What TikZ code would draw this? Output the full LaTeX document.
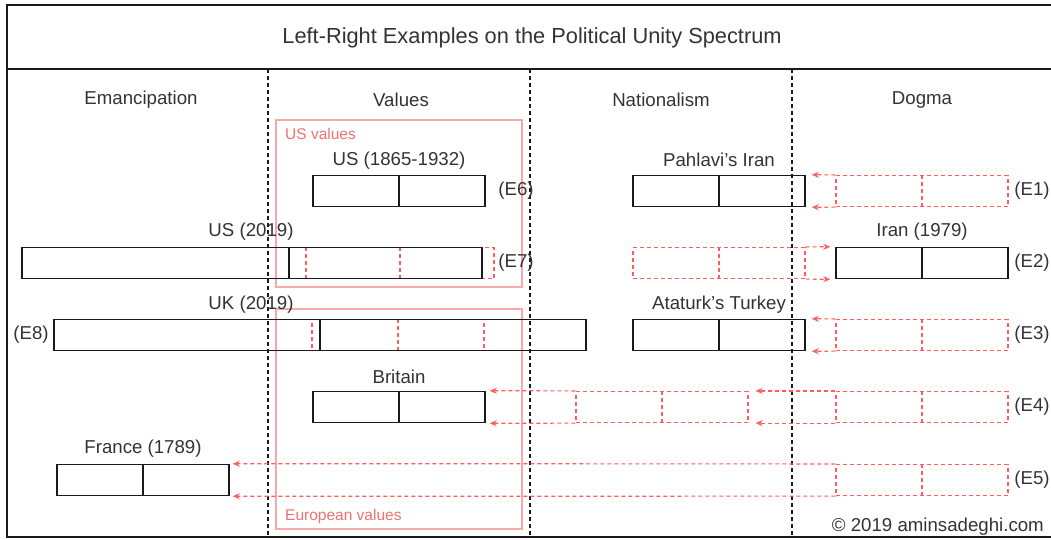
\documentclass[tikz,border=0pt]{standalone}
\usepackage{fontspec}
\setmainfont{Liberation Sans}
\usetikzlibrary{arrows.meta}
\definecolor{boxc}{HTML}{1A1A1A}
\definecolor{txtc}{HTML}{333333}
\definecolor{redc}{HTML}{FF5C5C}
\definecolor{pinkc}{HTML}{F7A8A8}
\definecolor{pinktxt}{HTML}{F27070}
\tikzset{
  bx/.style={draw=boxc, line width=1.5pt, minimum width=172pt, minimum height=31pt, inner sep=0pt},
  bxline/.style={draw=boxc, line width=1.5pt},
  gh/.style={draw=redc, line width=1.2pt, dash pattern=on 4pt off 3pt, minimum width=172pt, minimum height=31pt, inner sep=0pt},
  ghline/.style={draw=redc, line width=1.2pt, dash pattern=on 4pt off 3pt},
  garrow/.style={draw=redc, line width=1.2pt, dash pattern=on 4pt off 3pt, -{Stealth[length=7pt,width=6pt]}},
  lbl/.style={text=txtc, inner sep=0pt, font=\fontsize{18.66}{21}\selectfont},
  ttl/.style={text=txtc, inner sep=0pt, font=\fontsize{21.8}{24}\selectfont},
  grp/.style={draw=pinkc, line width=1.1pt},
  grplbl/.style={text=pinktxt, inner sep=0pt, anchor=west, font=\fontsize{15.5}{17}\selectfont},
  coldiv/.style={draw=boxc, line width=1.2pt, dash pattern=on 4pt off 3pt},
}
\begin{document}
\begin{tikzpicture}[x=1pt,y=-1pt]
\useasboundingbox (0,0) rectangle (1051,539);
% frame
\draw[boxc, line width=1.4pt] (7,5) rectangle (1056,537);
\draw[boxc, line width=1.4pt] (7,69) -- (1056,69);
\node[ttl] (title) at (532,38) {Left-Right Examples on the Political Unity Spectrum};
% column dividers
\coordinate (c1t) at (268,69); \coordinate (c1b) at (268,537);
\coordinate (c2t) at (530,69); \coordinate (c2b) at (530,537);
\coordinate (c3t) at (792,69); \coordinate (c3b) at (792,537);
\draw[coldiv] (c1t) -- (c1b);
\draw[coldiv] (c2t) -- (c2b);
\draw[coldiv] (c3t) -- (c3b);
% headers
\node[lbl] (h1) at (141,100) {Emancipation};
\node[lbl] (h2) at (401,100) {Values};
\node[lbl] (h3) at (661,100) {Nationalism};
\node[lbl] (h4) at (922,100) {Dogma};
% value groups
\draw[grp] (276,120) rectangle (522,287);
\node[grplbl] (usv) at (285,134) {US values};
\draw[grp] (276,309) rectangle (522,529);
\node[grplbl] (euv) at (285,516) {European values};

% E6
\node[bx] (e6) at (399,191) {};
\draw[bxline] (e6.north) -- (e6.south);
\node[lbl] (e6t) at (399,161) {US (1865-1932)};
\node[lbl] (e6l) at (516,191) {(E6)};

% E1
\node[bx] (p1) at (719,191) {};
\draw[bxline] (p1.north) -- (p1.south);
\node[lbl] (p1t) at (719,160) {Pahlavi's Iran};
\node[gh] (g1) at (922,191) {};
\draw[ghline] (g1.north) -- (g1.south);
\draw[garrow, shorten >=6pt] (g1.north west) -- (p1.north east);
\draw[garrow, shorten >=6pt] (g1.south west) -- (p1.south east);
\node[lbl] (e1l) at (1032,191) {(E1)};

% E2
\node[bx] (i2) at (922,263) {};
\draw[bxline] (i2.north) -- (i2.south);
\node[lbl] (i2t) at (922,232) {Iran (1979)};
\node[gh] (g2) at (719,263) {};
\draw[ghline] (g2.north) -- (g2.south);
\draw[garrow, shorten >=5pt] (g2.north east) -- (i2.north west);
\draw[garrow, shorten >=5pt] (g2.south east) -- (i2.south west);
\node[lbl] (e2l) at (1032,263) {(E2)};

% E7
\node[gh, minimum width=188pt] (g7) at (400,263) {};
\draw[ghline] (g7.north) -- (g7.south);
\node[bx, minimum width=460pt] (u7) at (252,263) {};
\coordinate (u7a) at (289,247.5); \coordinate (u7b) at (289,278.5);
\draw[bxline] (u7a) -- (u7b);
\node[lbl] (u7t) at (251,232) {US (2019)};
\node[lbl] (e7l) at (516,263) {(E7)};

% E8
\node[gh] (g8) at (398,335) {};
\draw[ghline] (g8.north) -- (g8.south);
\node[bx, minimum width=532pt] (k8) at (320,335) {};
\draw[bxline] (k8.north) -- (k8.south);
\node[lbl] (k8t) at (251,305) {UK (2019)};
\node[lbl] (e8l) at (31,335) {(E8)};

% E3
\node[bx] (t3) at (719,335) {};
\draw[bxline] (t3.north) -- (t3.south);
\node[lbl] (t3t) at (719,305) {Ataturk's Turkey};
\node[gh] (g3) at (922,335) {};
\draw[ghline] (g3.north) -- (g3.south);
\draw[garrow, shorten >=6pt] (g3.north west) -- (t3.north east);
\draw[garrow, shorten >=6pt] (g3.south west) -- (t3.south east);
\node[lbl] (e3l) at (1032,335) {(E3)};

% E4
\node[bx] (b4) at (399,407) {};
\draw[bxline] (b4.north) -- (b4.south);
\node[lbl] (b4t) at (399,377) {Britain};
\node[gh] (g4b) at (662,407) {};
\draw[ghline] (g4b.north) -- (g4b.south);
\node[gh] (g4a) at (922,407) {};
\draw[ghline] (g4a.north) -- (g4a.south);
\draw[garrow, shorten >=4pt] (g4b.north west) -- (b4.north east);
\draw[garrow, shorten >=4pt] (g4b.south west) -- (b4.south east);
\draw[garrow, shorten >=7pt] (g4a.north west) -- (g4b.north east);
\draw[garrow, shorten >=7pt] (g4a.south west) -- (g4b.south east);
\node[lbl] (e4l) at (1032,407) {(E4)};

% E5
\node[bx] (f5) at (143,480) {};
\draw[bxline] (f5.north) -- (f5.south);
\node[lbl] (f5t) at (143,449) {France (1789)};
\node[gh] (g5) at (922,480) {};
\draw[ghline] (g5.north) -- (g5.south);
\draw[garrow, shorten >=3pt] (g5.north west) -- (f5.north east);
\draw[garrow, shorten >=3pt] (g5.south west) -- (f5.south east);
\node[lbl] (e5l) at (1032,480) {(E5)};

% copyright
\node[lbl, anchor=east] (copy) at (1044,527) {© 2019 aminsadeghi.com};
\end{tikzpicture}
\end{document}
